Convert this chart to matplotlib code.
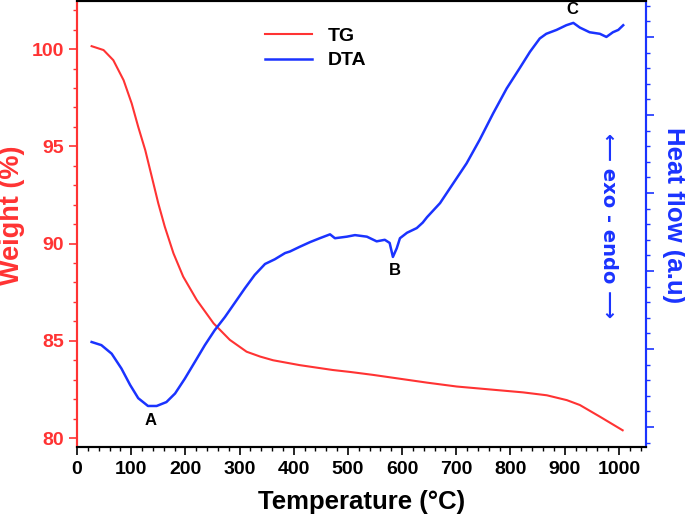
import numpy as np
import matplotlib
matplotlib.use("Agg")
from matplotlib import pyplot as plt
from matplotlib.ticker import MultipleLocator, NullFormatter

plt.rcParams["font.family"] = ["Liberation Sans", "DejaVu Sans"]
plt.rcParams["font.weight"] = "bold"

# TG curve (weight %)
tg_t = [27, 49, 67, 86, 101, 113, 126, 138, 150, 162, 178, 196, 221, 252, 282, 313,
        338, 362, 411, 472, 504, 546, 596, 646, 701, 762, 823, 867, 904, 928, 965,
        989, 1007]
tg_w = [100.15, 99.95, 99.43, 98.4, 97.2, 96.0, 94.8, 93.44, 92.07, 90.87, 89.5,
        88.3, 87.1, 85.9, 85.05, 84.44, 84.19, 84.0, 83.75, 83.5, 83.4, 83.25, 83.05,
        82.85, 82.65, 82.5, 82.35, 82.2, 81.95, 81.7, 81.1, 80.7, 80.4]

# DTA curve (heat flow, arbitrary units)
dta_t = [27, 45, 64, 82, 98, 113, 131, 147, 165, 181, 199, 218, 236, 254, 273, 291,
         310, 328, 347, 365, 384, 393, 411, 430, 448, 467, 476, 498, 513, 535, 553,
         568, 577, 583, 590, 596, 609, 627, 638, 646, 670, 694, 719, 743, 768, 793,
         817, 836, 854, 866, 885, 903, 916, 928, 946, 965, 977, 989, 999, 1008]
dta_h = [1.09, 1.05, 0.94, 0.75, 0.54, 0.37, 0.27, 0.27, 0.32, 0.43, 0.62, 0.84,
         1.05, 1.24, 1.41, 1.59, 1.78, 1.95, 2.09, 2.15, 2.23, 2.25, 2.31, 2.37,
         2.42, 2.47, 2.42, 2.44, 2.46, 2.44, 2.38, 2.40, 2.36, 2.18, 2.29, 2.42,
         2.49, 2.55, 2.62, 2.69, 2.87, 3.12, 3.38, 3.68, 4.02, 4.34, 4.60, 4.81,
         4.98, 5.04, 5.09, 5.15, 5.18, 5.12, 5.06, 5.04, 5.00, 5.06, 5.09, 5.15]

peak_labels = ["A", "B", "C"]
peak_t = [135, 587, 915]
peak_h = [0.09, 2.01, 5.35]

red = "#ff3333"
blue = "#1a33ff"

fig = plt.figure(figsize=(6.85, 5.21), dpi=100)
ax = fig.add_axes([0.1124, 0.142, 0.8306, 0.856])
ax2 = ax.twinx()

l1, = ax.plot(tg_t, tg_w, color=red, lw=1.5, label="TG")
l2, = ax2.plot(dta_t, dta_h, color=blue, lw=1.8, label="DTA")

ax.set_xlim(0, 1050)
ax.set_ylim(79.54, 102.47)
ax2.set_ylim(-0.256, 5.46)

ax.xaxis.set_major_locator(MultipleLocator(100))
ax.xaxis.set_minor_locator(MultipleLocator(20))
ax.yaxis.set_major_locator(MultipleLocator(5))
ax.yaxis.set_minor_locator(MultipleLocator(1))
ax2.yaxis.set_major_locator(MultipleLocator(1))
ax2.yaxis.set_minor_locator(MultipleLocator(0.2))
ax2.yaxis.set_major_formatter(NullFormatter())

ax.tick_params(axis="x", which="major", length=6, width=1.2, labelsize=14, pad=4)
ax.tick_params(axis="x", which="minor", length=3, width=1.0)
ax.tick_params(axis="y", which="major", length=6, width=1.2, colors=red, labelsize=14)
ax.tick_params(axis="y", which="minor", length=3, width=1.0, colors=red)
ax2.tick_params(axis="y", which="major", length=6, width=1.2, colors=blue)
ax2.tick_params(axis="y", which="minor", length=3, width=1.0, colors=blue)

for s in ax.spines.values():
    s.set_linewidth(1.5)
for s in ax2.spines.values():
    s.set_linewidth(1.5)
ax2.spines["left"].set_color(red)
ax2.spines["right"].set_color(blue)
ax.spines["left"].set_color(red)
ax.spines["right"].set_color(blue)

ax.set_xlabel("Temperature (°C)", fontsize=18.5, fontweight="bold", labelpad=9)
ax.set_ylabel("Weight (%)", fontsize=19.5, fontweight="bold", color=red)
ax2.set_ylabel("Heat flow (a.u)", fontsize=18.5, fontweight="bold", color=blue,
               rotation=270)
ax.yaxis.set_label_coords(-0.0914, 0.52)
ax2.yaxis.set_label_coords(1.07, 0.52)

for lab, t, h in zip(peak_labels, peak_t, peak_h):
    ax2.text(t, h, lab, fontsize=12, fontweight="bold", ha="center", va="center")

ax2.text(980, 2.58, "⟵ exo - endo ⟶", rotation=270, color=blue, fontsize=14,
         fontweight="bold", ha="center", va="center",
         family=["DejaVu Sans"])

ax.legend(handles=[l1, l2], loc="upper left", bbox_to_anchor=(0.3, 0.98),
          frameon=False, fontsize=14, handlelength=2.4, labelspacing=0.35)

fig.savefig("out.png", dpi=100)
